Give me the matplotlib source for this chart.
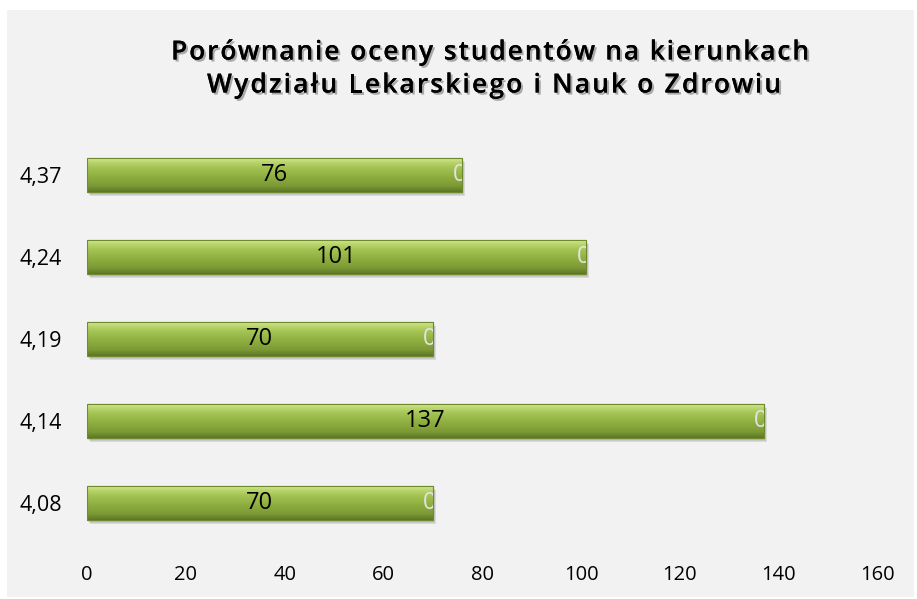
import numpy as np
import matplotlib
matplotlib.use("Agg")
import matplotlib.pyplot as plt
import matplotlib.patheffects as pe
import matplotlib.transforms as mtransforms
from matplotlib.colors import LinearSegmentedColormap
from matplotlib.patches import Rectangle

# Data (bottom to top)
grades = ["4,08", "4,14", "4,19", "4,24", "4,37"]
students = [70, 137, 70, 101, 76]
zero_series = [0, 0, 0, 0, 0]
x_ticks = [0, 20, 40, 60, 80, 100, 120, 140, 160]

title_lines = ["Porównanie oceny studentów na kierunkach",
               "Wydziału Lekarskiego i Nauk o Zdrowiu"]

plt.rcParams["font.family"] = ["Open Sans", "DejaVu Sans"]

W, H = 917, 599
fig = plt.figure(figsize=(W / 100, H / 100), dpi=100, facecolor="white")

# grey chart area
fig.patches.append(Rectangle((7 / W, 2 / H), 907 / W, 587 / H,
                             transform=fig.transFigure, facecolor="#f2f2f2",
                             edgecolor="none", zorder=-10))

ax = fig.add_axes([87 / W, 55 / H, 790.5 / W, 410 / H])
ax.set_facecolor("none")

y = np.arange(len(grades))
bar_h = 0.41
bars = ax.barh(y, students, height=bar_h, color="#8fb043",
               edgecolor="#6f8a2e", linewidth=0.8, zorder=3)

# vertical gradient for the bevelled look (row 0 = top of bar)
grad_cmap = LinearSegmentedColormap.from_list("bevel", [
    (0.0, "#d4e897"), (0.10, "#bcd76f"), (0.28, "#a3c353"),
    (0.55, "#8eae40"), (0.82, "#7c9a35"), (1.0, "#5d7826")])
grad = np.linspace(0, 1, 64).reshape(-1, 1)

for bar, val, z in zip(bars, students, zero_series):
    x0, y0 = bar.get_x(), bar.get_y()
    w, h = bar.get_width(), bar.get_height()
    for k, a in enumerate([0.06, 0.08, 0.10]):
        sh = Rectangle((x0, y0), w, h, facecolor="black", alpha=a,
                       edgecolor="none", zorder=1,
                       transform=ax.transData + mtransforms.ScaledTranslation(
                           (1 + k) / 100, -(2 + k) / 100, fig.dpi_scale_trans))
        ax.add_patch(sh)
    im = ax.imshow(grad, cmap=grad_cmap, aspect="auto", origin="upper",
                   extent=(x0, x0 + w, y0, y0 + h), zorder=4,
                   interpolation="bilinear")
    im.set_clip_path(bar)
    edge = Rectangle((x0, y0), w, h, facecolor="none", edgecolor="#6f8a2e",
                     linewidth=0.8, zorder=5)
    ax.add_patch(edge)

    ax.text(x0 + w / 2, y0 + h / 2, f"{val}", ha="center", va="center",
            fontsize=17, color="black", zorder=6)
    # zero-valued second series label, cut off at the bar end
    t = ax.annotate(f"{z}", (x0 + w, y0 + h / 2), xytext=(-2, 0),
                    textcoords="offset points", ha="center", va="center",
                    fontsize=17, color="#e2e2e2", zorder=6)
    t.set_clip_path(bar)

ax.set_xlim(0, 160)
ax.set_ylim(-0.5, len(grades) - 0.5)
ax.set_xticks(x_ticks)
ax.set_xticklabels([str(v) for v in x_ticks], fontsize=14.5)
ax.set_yticks(y)
ax.set_yticklabels(grades, fontsize=15.5)
ax.tick_params(length=0)
ax.tick_params(axis="x", pad=15)
ax.tick_params(axis="y", pad=18)
for s in ax.spines.values():
    s.set_visible(False)


def spaced_title(text, xc, yc, width_px, **kw):
    """Draw text centred at (xc, yc) in figure pixels, letter-spaced to width_px."""
    renderer = fig.canvas.get_renderer()

    def measure(s):
        tmp = fig.text(0, 0, s, **kw)
        wd = tmp.get_window_extent(renderer).width if s else 0
        tmp.remove()
        return wd

    natural = measure(text)
    gap = max(0.0, (width_px - natural) / (len(text) - 1))
    left = xc - (natural + gap * (len(text) - 1)) / 2
    for i, ch in enumerate(text):
        fig.text((left + measure(text[:i]) + gap * i) / W, 1 - yc / H, ch,
                 ha="left", va="center", **kw)


shadow = [pe.withSimplePatchShadow(offset=(1.5, -1.5), shadow_rgbFace="black",
                                   alpha=0.3), pe.Normal()]
title_kw = dict(fontsize=19, fontweight="semibold", color="black",
                path_effects=shadow)
spaced_title(title_lines[0], 490, 53, 638, **title_kw)
spaced_title(title_lines[1], 494, 86, 574, **title_kw)

fig.savefig("out.png", dpi=100, facecolor="white")
